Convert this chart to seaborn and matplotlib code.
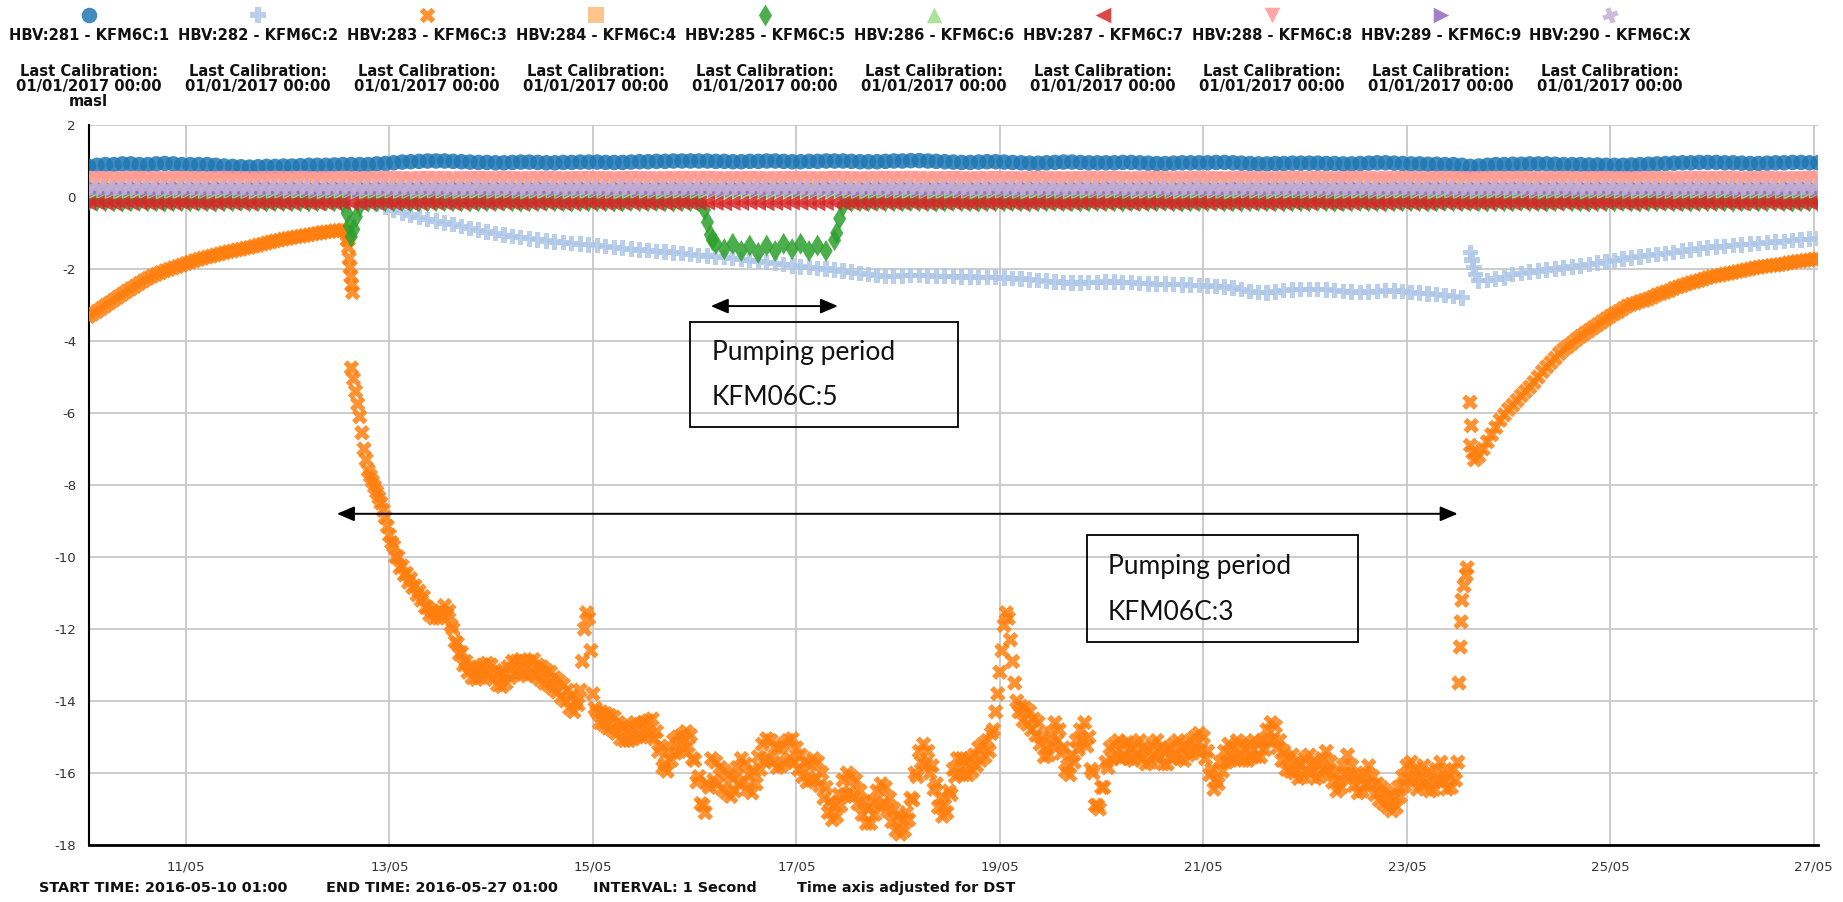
import matplotlib
matplotlib.use("Agg")
import numpy as np
import pandas as pd
import matplotlib.pyplot as plt
import matplotlib.dates as mdates
from matplotlib.markers import MarkerStyle
from matplotlib.transforms import Affine2D
from matplotlib.patches import Rectangle
import seaborn as sns

# ---------------------------------------------------------------- data
START = pd.Timestamp("2016-05-10 01:00")
END = pd.Timestamp("2016-05-27 01:00")

sensor_labels = [
    "HBV:281 - KFM6C:1", "HBV:282 - KFM6C:2", "HBV:283 - KFM6C:3",
    "HBV:284 - KFM6C:4", "HBV:285 - KFM6C:5", "HBV:286 - KFM6C:6",
    "HBV:287 - KFM6C:7", "HBV:288 - KFM6C:8", "HBV:289 - KFM6C:9",
    "HBV:290 - KFM6C:X",
]
sensor_colors = ["#1f77b4", "#aec7e8", "#ff7f0e", "#ffbb78", "#2ca02c",
                 "#98df8a", "#d62728", "#ff9896", "#9467bd", "#c5b0d5"]
calibration_lines = ["Last Calibration:", "01/01/2017 00:00"]
footer_items = ["START TIME: 2016-05-10 01:00", "END TIME: 2016-05-27 01:00",
                "INTERVAL: 1 Second", "Time axis adjusted for DST"]

# two-hourly readings, 10/05 01:00 .. 27/05 01:00 (masl)
kfm1_masl = [
    0.85, 0.88, 0.9, 0.9, 0.92, 0.92, 0.9, 0.9, 0.92, 0.93, 0.92, 0.9,
    0.9, 0.9, 0.9, 0.88, 0.86, 0.85, 0.84, 0.83, 0.84, 0.85, 0.85, 0.86,
    0.86, 0.87, 0.88, 0.88, 0.88, 0.89, 0.9, 0.9, 0.9, 0.9, 0.92, 0.93,
    0.95, 0.97, 0.98, 0.99, 1.0, 1.0, 1.0, 0.99, 0.98, 0.97, 0.96, 0.96,
    0.95, 0.95, 0.96, 0.97, 0.97, 0.96, 0.95, 0.95, 0.96, 0.96, 0.97, 0.97,
    0.97, 0.96, 0.96, 0.96, 0.97, 0.98, 0.98, 0.99, 0.99, 1.0, 1.0, 1.0,
    1.0, 1.0, 0.99, 0.99, 0.98, 0.98, 0.99, 0.99, 1.0, 1.0, 0.99, 0.98,
    0.98, 0.99, 0.99, 1.0, 1.0, 1.0, 0.99, 0.98, 0.98, 0.98, 0.99, 1.0,
    1.0, 1.01, 1.01, 1.0, 0.99, 0.98, 0.97, 0.96, 0.96, 0.97, 0.98, 0.98,
    0.97, 0.96, 0.95, 0.94, 0.94, 0.95, 0.96, 0.97, 0.97, 0.96, 0.95, 0.95,
    0.95, 0.95, 0.96, 0.96, 0.95, 0.94, 0.93, 0.93, 0.94, 0.95, 0.95, 0.95,
    0.95, 0.96, 0.96, 0.95, 0.94, 0.93, 0.92, 0.92, 0.93, 0.93, 0.94, 0.94,
    0.94, 0.94, 0.93, 0.93, 0.92, 0.92, 0.93, 0.94, 0.95, 0.95, 0.94, 0.93,
    0.92, 0.92, 0.91, 0.91, 0.9, 0.9, 0.88, 0.85, 0.86, 0.88, 0.9, 0.9,
    0.91, 0.91, 0.92, 0.92, 0.92, 0.91, 0.9, 0.9, 0.9, 0.89, 0.89, 0.88,
    0.88, 0.88, 0.89, 0.9, 0.91, 0.92, 0.93, 0.94, 0.95, 0.95, 0.96, 0.96,
    0.96, 0.95, 0.95, 0.94, 0.93, 0.93, 0.94, 0.95, 0.95, 0.96, 0.96, 0.95,
    0.95,
]
kfm2_masl = [
    0.15, 0.16, 0.15, 0.14, 0.15, 0.16, 0.15, 0.15, 0.14, 0.15, 0.16, 0.15,
    0.15, 0.14, 0.15, 0.15, 0.16, 0.15, 0.14, 0.15, 0.15, 0.16, 0.15, 0.15,
    0.14, 0.15, 0.15, 0.16, 0.15, 0.15, 0.14, 0.1, 0.0, -0.1, -0.2, -0.29,
    -0.37, -0.44, -0.5, -0.56, -0.62, -0.67, -0.72, -0.77, -0.82, -0.87, -0.92, -0.97,
    -1.02, -1.06, -1.1, -1.13, -1.16, -1.19, -1.22, -1.25, -1.27, -1.29, -1.31, -1.33,
    -1.35, -1.37, -1.4, -1.42, -1.45, -1.47, -1.49, -1.51, -1.53, -1.55, -1.57, -1.6,
    -1.62, -1.64, -1.66, -1.68, -1.7, -1.73, -1.76, -1.79, -1.82, -1.85, -1.88, -1.91,
    -1.94, -1.96, -1.98, -2.0, -2.03, -2.06, -2.09, -2.12, -2.15, -2.18, -2.2, -2.2,
    -2.19, -2.18, -2.18, -2.19, -2.2, -2.2, -2.21, -2.22, -2.22, -2.23, -2.24, -2.24,
    -2.25, -2.26, -2.28, -2.3, -2.32, -2.34, -2.36, -2.38, -2.39, -2.39, -2.38, -2.37,
    -2.36, -2.36, -2.37, -2.38, -2.4, -2.41, -2.42, -2.42, -2.43, -2.44, -2.45, -2.46,
    -2.47, -2.48, -2.5, -2.53, -2.57, -2.62, -2.65, -2.66, -2.64, -2.6, -2.58, -2.57,
    -2.57, -2.57, -2.58, -2.6, -2.62, -2.64, -2.65, -2.64, -2.62, -2.6, -2.61, -2.63,
    -2.65, -2.67, -2.69, -2.71, -2.73, -2.76, -2.8, -1.55, -2.33, -2.32, -2.28, -2.25,
    -2.15, -2.12, -2.09, -2.06, -2.03, -2.0, -1.97, -1.94, -1.91, -1.88, -1.84, -1.8,
    -1.76, -1.72, -1.69, -1.66, -1.63, -1.6, -1.57, -1.54, -1.5, -1.47, -1.44, -1.41,
    -1.39, -1.37, -1.35, -1.33, -1.31, -1.29, -1.27, -1.25, -1.23, -1.21, -1.19, -1.17,
    -1.15,
]
kfm4_masl = [
    0.42, 0.43, 0.42, 0.42, 0.41, 0.42, 0.43, 0.42, 0.42, 0.41, 0.42, 0.42,
    0.43, 0.42, 0.42, 0.41, 0.42, 0.42, 0.43, 0.42, 0.41, 0.42, 0.42, 0.43,
    0.42, 0.42, 0.41, 0.42, 0.43, 0.42, 0.42, 0.41, 0.42, 0.42, 0.43, 0.42,
    0.42, 0.43, 0.42, 0.42, 0.41, 0.42, 0.43, 0.42, 0.42, 0.41, 0.42, 0.42,
    0.43, 0.42, 0.42, 0.41, 0.42, 0.42, 0.43, 0.42, 0.41, 0.42, 0.42, 0.43,
    0.42, 0.42, 0.41, 0.42, 0.43, 0.42, 0.42, 0.41, 0.42, 0.42, 0.43, 0.42,
    0.42, 0.43, 0.42, 0.42, 0.41, 0.42, 0.43, 0.42, 0.42, 0.41, 0.42, 0.42,
    0.43, 0.42, 0.42, 0.41, 0.42, 0.42, 0.43, 0.42, 0.41, 0.42, 0.42, 0.43,
    0.42, 0.42, 0.41, 0.42, 0.43, 0.42, 0.42, 0.41, 0.42, 0.42, 0.43, 0.42,
    0.42, 0.43, 0.42, 0.42, 0.41, 0.42, 0.43, 0.42, 0.42, 0.41, 0.42, 0.42,
    0.43, 0.42, 0.42, 0.41, 0.42, 0.42, 0.43, 0.42, 0.41, 0.42, 0.42, 0.43,
    0.42, 0.42, 0.41, 0.42, 0.43, 0.42, 0.42, 0.41, 0.42, 0.42, 0.43, 0.42,
    0.42, 0.43, 0.42, 0.42, 0.41, 0.42, 0.43, 0.42, 0.42, 0.41, 0.42, 0.42,
    0.43, 0.42, 0.42, 0.41, 0.42, 0.42, 0.43, 0.42, 0.41, 0.42, 0.42, 0.43,
    0.42, 0.42, 0.41, 0.42, 0.43, 0.42, 0.42, 0.41, 0.42, 0.42, 0.43, 0.42,
    0.42, 0.43, 0.42, 0.42, 0.41, 0.42, 0.43, 0.42, 0.42, 0.41, 0.42, 0.42,
    0.43, 0.42, 0.42, 0.41, 0.42, 0.42, 0.43, 0.42, 0.41, 0.42, 0.42, 0.43,
    0.42,
]
kfm5_masl = [
    -0.12, -0.11, -0.12, -0.12, -0.13, -0.12, -0.11, -0.12, -0.12, -0.13, -0.12, -0.12,
    -0.12, -0.11, -0.12, -0.13, -0.12, -0.12, -0.11, -0.12, -0.12, -0.13, -0.12, -0.12,
    -0.12, -0.12, -0.13, -0.12, -0.11, -0.12, -0.15, -1.1, -0.25, -0.13, -0.12, -0.12,
    -0.12, -0.11, -0.12, -0.12, -0.13, -0.12, -0.11, -0.12, -0.12, -0.13, -0.12, -0.12,
    -0.12, -0.11, -0.12, -0.13, -0.12, -0.12, -0.11, -0.12, -0.12, -0.13, -0.12, -0.12,
    -0.12, -0.12, -0.13, -0.12, -0.11, -0.12, -0.12, -0.11, -0.12, -0.13, -0.12, -0.12,
    -0.12, -0.7, -1.3, -1.45, -1.3, -1.5, -1.35, -1.55, -1.35, -1.5, -1.3, -1.45,
    -1.3, -1.5, -1.35, -1.5, -1.2, -0.25, -0.13, -0.12, -0.12, -0.11, -0.12, -0.12,
    -0.12, -0.11, -0.12, -0.12, -0.13, -0.12, -0.11, -0.12, -0.12, -0.13, -0.12, -0.12,
    -0.12, -0.11, -0.12, -0.13, -0.12, -0.12, -0.11, -0.12, -0.12, -0.13, -0.12, -0.12,
    -0.12, -0.12, -0.13, -0.12, -0.11, -0.12, -0.12, -0.11, -0.12, -0.13, -0.12, -0.12,
    -0.12, -0.11, -0.12, -0.12, -0.13, -0.12, -0.11, -0.12, -0.12, -0.13, -0.12, -0.12,
    -0.12, -0.11, -0.12, -0.13, -0.12, -0.12, -0.11, -0.12, -0.12, -0.13, -0.12, -0.12,
    -0.12, -0.12, -0.13, -0.12, -0.11, -0.12, -0.12, -0.11, -0.12, -0.13, -0.12, -0.12,
    -0.12, -0.11, -0.12, -0.12, -0.13, -0.12, -0.11, -0.12, -0.12, -0.13, -0.12, -0.12,
    -0.12, -0.11, -0.12, -0.13, -0.12, -0.12, -0.11, -0.12, -0.12, -0.13, -0.12, -0.12,
    -0.12, -0.12, -0.13, -0.12, -0.11, -0.12, -0.12, -0.11, -0.12, -0.13, -0.12, -0.12,
    -0.12,
]
kfm6_masl = [
    0.18, 0.19, 0.18, 0.17, 0.18, 0.18, 0.19, 0.18, 0.17, 0.18, 0.18, 0.19,
    0.18, 0.18, 0.17, 0.18, 0.19, 0.18, 0.18, 0.17, 0.18, 0.18, 0.19, 0.18,
    0.18, 0.19, 0.18, 0.17, 0.18, 0.18, 0.19, 0.18, 0.17, 0.18, 0.18, 0.19,
    0.18, 0.18, 0.17, 0.18, 0.19, 0.18, 0.18, 0.17, 0.18, 0.18, 0.19, 0.18,
    0.18, 0.19, 0.18, 0.17, 0.18, 0.18, 0.19, 0.18, 0.17, 0.18, 0.18, 0.19,
    0.18, 0.18, 0.17, 0.18, 0.19, 0.18, 0.18, 0.17, 0.18, 0.18, 0.19, 0.18,
    0.18, 0.19, 0.18, 0.17, 0.18, 0.18, 0.19, 0.18, 0.17, 0.18, 0.18, 0.19,
    0.18, 0.18, 0.17, 0.18, 0.19, 0.18, 0.18, 0.17, 0.18, 0.18, 0.19, 0.18,
    0.18, 0.19, 0.18, 0.17, 0.18, 0.18, 0.19, 0.18, 0.17, 0.18, 0.18, 0.19,
    0.18, 0.18, 0.17, 0.18, 0.19, 0.18, 0.18, 0.17, 0.18, 0.18, 0.19, 0.18,
    0.18, 0.19, 0.18, 0.17, 0.18, 0.18, 0.19, 0.18, 0.17, 0.18, 0.18, 0.19,
    0.18, 0.18, 0.17, 0.18, 0.19, 0.18, 0.18, 0.17, 0.18, 0.18, 0.19, 0.18,
    0.18, 0.19, 0.18, 0.17, 0.18, 0.18, 0.19, 0.18, 0.17, 0.18, 0.18, 0.19,
    0.18, 0.18, 0.17, 0.18, 0.19, 0.18, 0.18, 0.17, 0.18, 0.18, 0.19, 0.18,
    0.18, 0.19, 0.18, 0.17, 0.18, 0.18, 0.19, 0.18, 0.17, 0.18, 0.18, 0.19,
    0.18, 0.18, 0.17, 0.18, 0.19, 0.18, 0.18, 0.17, 0.18, 0.18, 0.19, 0.18,
    0.18, 0.19, 0.18, 0.17, 0.18, 0.18, 0.19, 0.18, 0.17, 0.18, 0.18, 0.19,
    0.18,
]
kfm7_masl = [
    -0.17, -0.16, -0.17, -0.18, -0.17, -0.17, -0.16, -0.17, -0.18, -0.17, -0.17, -0.16,
    -0.17, -0.17, -0.18, -0.17, -0.16, -0.17, -0.17, -0.18, -0.17, -0.17, -0.16, -0.17,
    -0.17, -0.16, -0.17, -0.18, -0.17, -0.17, -0.16, -0.17, -0.18, -0.17, -0.17, -0.16,
    -0.17, -0.17, -0.18, -0.17, -0.16, -0.17, -0.17, -0.18, -0.17, -0.17, -0.16, -0.17,
    -0.17, -0.16, -0.17, -0.18, -0.17, -0.17, -0.16, -0.17, -0.18, -0.17, -0.17, -0.16,
    -0.17, -0.17, -0.18, -0.17, -0.16, -0.17, -0.17, -0.18, -0.17, -0.17, -0.16, -0.17,
    -0.17, -0.16, -0.17, -0.18, -0.17, -0.17, -0.16, -0.17, -0.18, -0.17, -0.17, -0.16,
    -0.17, -0.17, -0.18, -0.17, -0.16, -0.17, -0.17, -0.18, -0.17, -0.17, -0.16, -0.17,
    -0.17, -0.16, -0.17, -0.18, -0.17, -0.17, -0.16, -0.17, -0.18, -0.17, -0.17, -0.16,
    -0.17, -0.17, -0.18, -0.17, -0.16, -0.17, -0.17, -0.18, -0.17, -0.17, -0.16, -0.17,
    -0.17, -0.16, -0.17, -0.18, -0.17, -0.17, -0.16, -0.17, -0.18, -0.17, -0.17, -0.16,
    -0.17, -0.17, -0.18, -0.17, -0.16, -0.17, -0.17, -0.18, -0.17, -0.17, -0.16, -0.17,
    -0.17, -0.16, -0.17, -0.18, -0.17, -0.17, -0.16, -0.17, -0.18, -0.17, -0.17, -0.16,
    -0.17, -0.17, -0.18, -0.17, -0.16, -0.17, -0.17, -0.18, -0.17, -0.17, -0.16, -0.17,
    -0.17, -0.16, -0.17, -0.18, -0.17, -0.17, -0.16, -0.17, -0.18, -0.17, -0.17, -0.16,
    -0.17, -0.17, -0.18, -0.17, -0.16, -0.17, -0.17, -0.18, -0.17, -0.17, -0.16, -0.17,
    -0.17, -0.16, -0.17, -0.18, -0.17, -0.17, -0.16, -0.17, -0.18, -0.17, -0.17, -0.16,
    -0.17,
]
kfm8_masl = [
    0.5, 0.51, 0.5, 0.49, 0.5, 0.5, 0.51, 0.5, 0.49, 0.5, 0.5, 0.51,
    0.5, 0.5, 0.49, 0.5, 0.51, 0.5, 0.5, 0.49, 0.5, 0.5, 0.51, 0.5,
    0.5, 0.51, 0.5, 0.49, 0.5, 0.5, 0.51, 0.5, 0.49, 0.5, 0.5, 0.51,
    0.5, 0.5, 0.49, 0.5, 0.51, 0.5, 0.5, 0.49, 0.5, 0.5, 0.51, 0.5,
    0.5, 0.51, 0.5, 0.49, 0.5, 0.5, 0.51, 0.5, 0.49, 0.5, 0.5, 0.51,
    0.5, 0.5, 0.49, 0.5, 0.51, 0.5, 0.5, 0.49, 0.5, 0.5, 0.51, 0.5,
    0.5, 0.51, 0.5, 0.49, 0.5, 0.5, 0.51, 0.5, 0.49, 0.5, 0.5, 0.51,
    0.5, 0.5, 0.49, 0.5, 0.51, 0.5, 0.5, 0.49, 0.5, 0.5, 0.51, 0.5,
    0.5, 0.51, 0.5, 0.49, 0.5, 0.5, 0.51, 0.5, 0.49, 0.5, 0.5, 0.51,
    0.5, 0.5, 0.49, 0.5, 0.51, 0.5, 0.5, 0.49, 0.5, 0.5, 0.51, 0.5,
    0.5, 0.51, 0.5, 0.49, 0.5, 0.5, 0.51, 0.5, 0.49, 0.5, 0.5, 0.51,
    0.5, 0.5, 0.49, 0.5, 0.51, 0.5, 0.5, 0.49, 0.5, 0.5, 0.51, 0.5,
    0.5, 0.51, 0.5, 0.49, 0.5, 0.5, 0.51, 0.5, 0.49, 0.5, 0.5, 0.51,
    0.5, 0.5, 0.49, 0.5, 0.51, 0.5, 0.5, 0.49, 0.5, 0.5, 0.51, 0.5,
    0.5, 0.51, 0.5, 0.49, 0.5, 0.5, 0.51, 0.5, 0.49, 0.5, 0.5, 0.51,
    0.5, 0.5, 0.49, 0.5, 0.51, 0.5, 0.5, 0.49, 0.5, 0.5, 0.51, 0.5,
    0.5, 0.51, 0.5, 0.49, 0.5, 0.5, 0.51, 0.5, 0.49, 0.5, 0.5, 0.51,
    0.5,
]
kfm9_masl = [
    0.2, 0.21, 0.2, 0.19, 0.2, 0.2, 0.21, 0.2, 0.19, 0.2, 0.2, 0.21,
    0.2, 0.2, 0.19, 0.2, 0.21, 0.2, 0.2, 0.19, 0.2, 0.2, 0.21, 0.2,
    0.2, 0.21, 0.2, 0.19, 0.2, 0.2, 0.21, 0.2, 0.19, 0.2, 0.2, 0.21,
    0.2, 0.2, 0.19, 0.2, 0.21, 0.2, 0.2, 0.19, 0.2, 0.2, 0.21, 0.2,
    0.2, 0.21, 0.2, 0.19, 0.2, 0.2, 0.21, 0.2, 0.19, 0.2, 0.2, 0.21,
    0.2, 0.2, 0.19, 0.2, 0.21, 0.2, 0.2, 0.19, 0.2, 0.2, 0.21, 0.2,
    0.2, 0.21, 0.2, 0.19, 0.2, 0.2, 0.21, 0.2, 0.19, 0.2, 0.2, 0.21,
    0.2, 0.2, 0.19, 0.2, 0.21, 0.2, 0.2, 0.19, 0.2, 0.2, 0.21, 0.2,
    0.2, 0.21, 0.2, 0.19, 0.2, 0.2, 0.21, 0.2, 0.19, 0.2, 0.2, 0.21,
    0.2, 0.2, 0.19, 0.2, 0.21, 0.2, 0.2, 0.19, 0.2, 0.2, 0.21, 0.2,
    0.2, 0.21, 0.2, 0.19, 0.2, 0.2, 0.21, 0.2, 0.19, 0.2, 0.2, 0.21,
    0.2, 0.2, 0.19, 0.2, 0.21, 0.2, 0.2, 0.19, 0.2, 0.2, 0.21, 0.2,
    0.2, 0.21, 0.2, 0.19, 0.2, 0.2, 0.21, 0.2, 0.19, 0.2, 0.2, 0.21,
    0.2, 0.2, 0.19, 0.2, 0.21, 0.2, 0.2, 0.19, 0.2, 0.2, 0.21, 0.2,
    0.2, 0.21, 0.2, 0.19, 0.2, 0.2, 0.21, 0.2, 0.19, 0.2, 0.2, 0.21,
    0.2, 0.2, 0.19, 0.2, 0.21, 0.2, 0.2, 0.19, 0.2, 0.2, 0.21, 0.2,
    0.2, 0.21, 0.2, 0.19, 0.2, 0.2, 0.21, 0.2, 0.19, 0.2, 0.2, 0.21,
    0.2,
]
kfm10_masl = [
    0.26, 0.27, 0.26, 0.25, 0.26, 0.26, 0.27, 0.26, 0.25, 0.26, 0.26, 0.27,
    0.26, 0.26, 0.25, 0.26, 0.27, 0.26, 0.26, 0.25, 0.26, 0.26, 0.27, 0.26,
    0.26, 0.27, 0.26, 0.25, 0.26, 0.26, 0.27, 0.26, 0.25, 0.26, 0.26, 0.27,
    0.26, 0.26, 0.25, 0.26, 0.27, 0.26, 0.26, 0.25, 0.26, 0.26, 0.27, 0.26,
    0.26, 0.27, 0.26, 0.25, 0.26, 0.26, 0.27, 0.26, 0.25, 0.26, 0.26, 0.27,
    0.26, 0.26, 0.25, 0.26, 0.27, 0.26, 0.26, 0.25, 0.26, 0.26, 0.27, 0.26,
    0.26, 0.27, 0.26, 0.25, 0.26, 0.26, 0.27, 0.26, 0.25, 0.26, 0.26, 0.27,
    0.26, 0.26, 0.25, 0.26, 0.27, 0.26, 0.26, 0.25, 0.26, 0.26, 0.27, 0.26,
    0.26, 0.27, 0.26, 0.25, 0.26, 0.26, 0.27, 0.26, 0.25, 0.26, 0.26, 0.27,
    0.26, 0.26, 0.25, 0.26, 0.27, 0.26, 0.26, 0.25, 0.26, 0.26, 0.27, 0.26,
    0.26, 0.27, 0.26, 0.25, 0.26, 0.26, 0.27, 0.26, 0.25, 0.26, 0.26, 0.27,
    0.26, 0.26, 0.25, 0.26, 0.27, 0.26, 0.26, 0.25, 0.26, 0.26, 0.27, 0.26,
    0.26, 0.27, 0.26, 0.25, 0.26, 0.26, 0.27, 0.26, 0.25, 0.26, 0.26, 0.27,
    0.26, 0.26, 0.25, 0.26, 0.27, 0.26, 0.26, 0.25, 0.26, 0.26, 0.27, 0.26,
    0.26, 0.27, 0.26, 0.25, 0.26, 0.26, 0.27, 0.26, 0.25, 0.26, 0.26, 0.27,
    0.26, 0.26, 0.25, 0.26, 0.27, 0.26, 0.26, 0.25, 0.26, 0.26, 0.27, 0.26,
    0.26, 0.27, 0.26, 0.25, 0.26, 0.26, 0.27, 0.26, 0.25, 0.26, 0.26, 0.27,
    0.26,
]

# hourly readings of the pumped section KFM6C:3, on the hour, 10/05 01:00 .. 27/05 01:00
kfm3_masl = [
    -3.32, -3.25, -3.18, -3.1, -3.02, -2.94, -2.86, -2.78, -2.7, -2.62, -2.55, -2.48,
    -2.4, -2.33, -2.26, -2.2, -2.15, -2.1, -2.05, -2.01, -1.97, -1.93, -1.89, -1.85,
    -1.81, -1.77, -1.73, -1.7, -1.67, -1.64, -1.61, -1.58, -1.55, -1.52, -1.5, -1.47,
    -1.45, -1.42, -1.4, -1.37, -1.34, -1.31, -1.28, -1.25, -1.22, -1.2, -1.17, -1.15,
    -1.13, -1.11, -1.09, -1.07, -1.05, -1.03, -1.01, -0.99, -0.97, -0.96, -0.94, -0.93,
    -0.92, -1.05, -4.75, -5.4, -6.1, -7.0, -7.6, -7.9, -8.2, -8.5, -8.9, -9.4,
    -9.7, -10.0, -10.25, -10.45, -10.6, -10.8, -10.95, -11.1, -11.4, -11.5, -11.55, -11.5,
    -11.35, -11.5, -12.0, -12.4, -12.65, -12.9, -13.05, -13.1, -13.1, -13.0, -12.95, -13.0,
    -13.15, -13.2, -13.25, -13.05, -12.9, -12.9, -12.85, -12.9, -12.9, -12.85, -13.0, -13.05,
    -13.15, -13.2, -13.35, -13.45, -13.55, -13.7, -13.85, -14.0, -13.7, -12.0, -11.7, -13.8,
    -14.3, -14.3, -14.35, -14.4, -14.45, -14.6, -14.7, -14.75, -14.7, -14.6, -14.65, -14.6,
    -14.55, -14.5, -14.85, -15.25, -15.75, -15.4, -15.1, -15.0, -14.95, -14.85, -14.95, -15.65,
    -16.1, -16.9, -16.3, -15.6, -15.7, -15.85, -15.95, -16.05, -16.15, -15.85, -15.6, -15.75,
    -16.05, -15.95, -15.55, -15.2, -15.05, -15.1, -15.3, -15.3, -15.2, -15.1, -15.05, -15.3,
    -15.5, -15.7, -15.8, -15.6, -15.7, -16.0, -16.4, -16.8, -16.9, -16.6, -16.2, -16.0,
    -16.1, -16.2, -16.5, -16.8, -17.0, -16.8, -16.5, -16.3, -16.4, -16.7, -17.0, -17.2,
    -17.3, -17.1, -16.7, -16.0, -15.4, -15.2, -15.4, -15.8, -16.3, -16.7, -16.9, -16.5,
    -15.9, -15.6, -15.6, -15.7, -15.6, -15.5, -15.3, -15.2, -15.1, -14.9, -14.3, -13.2,
    -11.9, -11.7, -12.9, -14.0, -14.15, -14.2, -14.3, -14.5, -14.6, -15.0, -15.3, -14.9,
    -14.6, -14.8, -15.3, -15.8, -15.5, -15.1, -14.8, -14.6, -15.0, -16.0, -16.9, -16.4,
    -15.7, -15.3, -15.2, -15.1, -15.2, -15.15, -15.3, -15.2, -15.1, -15.3, -15.4, -15.2,
    -15.1, -15.3, -15.4, -15.3, -15.2, -15.1, -15.3, -15.2, -15.1, -15.0, -14.9, -15.0,
    -15.4, -15.9, -16.2, -15.7, -15.4, -15.2, -15.3, -15.1, -15.2, -15.3, -15.2, -15.1,
    -15.2, -15.1, -14.8, -14.6, -14.7, -15.1, -15.4, -15.6, -15.5, -15.7, -15.8, -15.6,
    -15.5, -15.7, -15.8, -15.6, -15.4, -15.7, -16.0, -16.2, -15.8, -15.5, -15.8, -16.1,
    -16.2, -16.0, -15.8, -16.1, -16.3, -16.4, -16.5, -16.6, -16.7, -16.4, -16.1, -15.8,
    -15.7, -15.9, -16.1, -15.8, -16.0, -16.2, -15.9, -15.7, -16.0, -16.1, -15.9, -15.7,
    -11.2, -10.5, -6.9, -7.3, -7.2, -7.0, -6.8, -6.6, -6.4, -6.2, -6.05, -5.9,
    -5.78, -5.65, -5.52, -5.4, -5.28, -5.15, -5.0, -4.85, -4.72, -4.6, -4.48, -4.35,
    -4.24, -4.15, -4.06, -3.96, -3.87, -3.79, -3.71, -3.63, -3.55, -3.47, -3.39, -3.31,
    -3.24, -3.18, -3.1, -3.03, -2.98, -2.95, -2.9, -2.87, -2.83, -2.78, -2.72, -2.68,
    -2.64, -2.6, -2.54, -2.5, -2.46, -2.42, -2.38, -2.35, -2.32, -2.28, -2.24, -2.21,
    -2.19, -2.17, -2.14, -2.12, -2.1, -2.07, -2.05, -2.02, -2.0, -1.97, -1.95, -1.93,
    -1.92, -1.9, -1.89, -1.88, -1.86, -1.83, -1.81, -1.79, -1.78, -1.76, -1.75, -1.73,
    -1.72,
]
# KFM6C:3 readings on the half hour while pumping, 12/05 15:30 .. 23/05 11:30
kfm3_half_hour_masl = [
    -5.05, -5.75, -6.55, -7.3, -7.75, -8.05, -8.35, -8.7, -9.15, -9.6,
    -10.0, -10.3, -10.5, -10.7, -10.85, -11.05, -11.2, -11.4, -11.6, -11.7, -11.7, -11.6,
    -11.6, -11.9, -12.35, -12.7, -13.0, -13.2, -13.35, -13.4, -13.35, -13.25, -13.25, -13.4,
    -13.55, -13.6, -13.5, -13.35, -13.25, -13.2, -13.25, -13.3, -13.2, -13.3, -13.4, -13.5,
    -13.55, -13.65, -13.75, -13.9, -14.0, -14.2, -14.3, -14.1, -12.9, -11.55, -12.6, -14.2,
    -14.6, -14.65, -14.75, -14.8, -14.9, -15.05, -15.1, -15.1, -15.05, -15.0, -15.0, -14.95,
    -14.9, -15.05, -15.4, -15.85, -15.95, -15.65, -15.45, -15.4, -15.3, -15.25, -15.6, -16.25,
    -16.85, -17.1, -16.4, -16.2, -16.3, -16.45, -16.55, -16.65, -16.5, -16.3, -16.2, -16.45,
    -16.55, -16.3, -15.9, -15.65, -15.6, -15.7, -15.85, -15.8, -15.7, -15.6, -15.7, -15.9,
    -16.1, -16.25, -16.2, -16.15, -16.35, -16.7, -17.1, -17.3, -17.2, -16.9, -16.6, -16.55,
    -16.65, -16.85, -17.15, -17.4, -17.4, -17.15, -16.9, -16.85, -17.05, -17.35, -17.6, -17.7,
    -17.6, -17.3, -16.75, -16.1, -15.7, -15.75, -16.0, -16.45, -16.95, -17.2, -17.1, -16.6,
    -16.1, -16.0, -16.05, -16.05, -15.95, -15.8, -15.65, -15.55, -15.4, -14.8, -13.8, -12.6,
    -11.55, -12.3, -13.5, -14.3, -14.55, -14.65, -14.8, -14.95, -15.2, -15.55, -15.5, -15.2,
    -15.1, -15.45, -15.95, -16.05, -15.7, -15.35, -15.1, -15.25, -15.9, -16.9, -17.0, -16.4,
    -15.85, -15.6, -15.5, -15.6, -15.55, -15.6, -15.65, -15.5, -15.6, -15.75, -15.7, -15.5,
    -15.6, -15.75, -15.75, -15.6, -15.5, -15.6, -15.65, -15.5, -15.45, -15.35, -15.35, -15.6,
    -16.05, -16.45, -16.3, -15.95, -15.7, -15.65, -15.6, -15.55, -15.65, -15.65, -15.55, -15.55,
    -15.55, -15.35, -15.1, -15.05, -15.3, -15.65, -15.9, -15.95, -16.0, -16.15, -16.1, -15.95,
    -16.0, -16.15, -16.1, -15.9, -15.95, -16.25, -16.5, -16.4, -16.05, -16.05, -16.35, -16.55,
    -16.5, -16.3, -16.35, -16.6, -16.75, -16.85, -16.95, -17.05, -16.95, -16.65, -16.35, -16.15,
    -16.2, -16.45, -16.35, -16.3, -16.5, -16.45, -16.2, -16.25, -16.45, -16.4, -16.2,
]
HALF_HOUR_FIRST = 62.5  # hours after start time of the first half-hour reading

# extra readings logged while the level changed fastest (hours after start time)
kfm3_fast_hours = [61.0, 61.3, 61.5, 61.7, 61.9, 62.1, 62.3,
                   323.3, 323.6, 323.8, 324.5, 325.2, 325.9, 326.2, 326.6]
kfm3_fast_masl = [-1.2, -1.4, -1.7, -1.95, -2.2, -2.45, -2.65,
                  -13.5, -12.5, -11.8, -10.8, -10.3, -5.7, -6.35, -7.1]
kfm2_fast_hours = [326.4, 326.8, 327.2]
kfm2_fast_masl = [-1.75, -1.95, -2.15]
kfm5_fast_hours = [61.0, 61.5, 62.6, 63.2, 145.3, 146.7, 147.2, 176.5, 177.2]
kfm5_fast_masl = [-0.45, -0.8, -0.9, -0.55, -0.35, -1.05, -1.2, -1.0, -0.6]

# ---------------------------------------------------------------- frame
two_hourly = pd.date_range(START, END, freq="2h")
hourly = pd.date_range(START, END, freq="1h")
half_hourly = pd.date_range(START + pd.Timedelta(hours=HALF_HOUR_FIRST),
                            periods=len(kfm3_half_hour_masl), freq="1h")


def readings(label, times, values):
    return pd.DataFrame({"time": times, "masl": values, "sensor": label})


def at_hours(hours):
    return START + pd.to_timedelta(hours, unit="h")


frames = [
    readings(sensor_labels[0], two_hourly, kfm1_masl),
    readings(sensor_labels[1], two_hourly, kfm2_masl),
    readings(sensor_labels[1], at_hours(kfm2_fast_hours), kfm2_fast_masl),
    readings(sensor_labels[2], hourly, kfm3_masl),
    readings(sensor_labels[2], half_hourly, kfm3_half_hour_masl),
    readings(sensor_labels[2], at_hours(kfm3_fast_hours), kfm3_fast_masl),
    readings(sensor_labels[3], two_hourly, kfm4_masl),
    readings(sensor_labels[4], two_hourly, kfm5_masl),
    readings(sensor_labels[4], at_hours(kfm5_fast_hours), kfm5_fast_masl),
    readings(sensor_labels[5], two_hourly, kfm6_masl),
    readings(sensor_labels[6], two_hourly, kfm7_masl),
    readings(sensor_labels[7], two_hourly, kfm8_masl),
    readings(sensor_labels[8], two_hourly, kfm9_masl),
    readings(sensor_labels[9], two_hourly, kfm10_masl),
]
levels = pd.concat(frames, ignore_index=True)

tilted_plus = MarkerStyle("P", transform=Affine2D().rotate_deg(20))
marker_shapes = ["o", "P", "X", "s", "d", "^", "<", "v", ">", tilted_plus]
palette = dict(zip(sensor_labels, sensor_colors))
markers = dict(zip(sensor_labels, marker_shapes))

# ---------------------------------------------------------------- figure
sns.set_theme(style="white")
plt.rcParams["font.family"] = ["DejaVu Sans"]
plt.rcParams["axes.unicode_minus"] = False

W, H = 1843, 902
fig = plt.figure(figsize=(W / 100, H / 100), dpi=100)
fig.patch.set_facecolor("white")
ax = fig.add_axes([88.5 / W, 1 - 845 / H, (1818 - 88.5) / W, (845 - 125) / H])

MARKER_AREA = 125
sns.scatterplot(data=levels, x="time", y="masl", hue="sensor", style="sensor",
                palette=palette, markers=markers, s=MARKER_AREA, alpha=0.85,
                linewidth=0, edgecolor="none", legend=False, ax=ax, zorder=3)

ax.set_xlim(START, END)
ax.set_ylim(-18, 2)
ax.set_yticks(np.arange(-18, 3, 2))
ax.xaxis.set_major_locator(mdates.DayLocator(bymonthday=range(11, 28, 2)))
ax.xaxis.set_major_formatter(mdates.DateFormatter("%d/%m"))
ax.set_xlabel("")
ax.set_ylabel("")

ax.grid(True, color="#c8c8c8", linewidth=1.3)
ax.set_axisbelow(True)
for side in ("top", "right"):
    ax.spines[side].set_visible(False)
ax.spines["left"].set_color("black")
ax.spines["left"].set_linewidth(1.5)
ax.spines["bottom"].set_color("black")
ax.spines["bottom"].set_linewidth(2.0)
ax.tick_params(axis="both", direction="out", length=6, width=1.4, color="black",
               labelsize=9.6, labelcolor="#333333")
ax.tick_params(axis="y", pad=3)
ax.tick_params(axis="x", pad=5)


# ---------------------------------------------------------------- pumping annotations
def hnum(hours):
    return mdates.date2num(START + pd.Timedelta(hours=hours))


arrow_style = dict(arrowstyle="<|-|>,head_length=0.75,head_width=0.32",
                   color="black", lw=1.4, shrinkA=0, shrinkB=0, mutation_scale=14)
note_font = dict(family="Lato", fontsize=19, color="#111111", va="baseline", ha="left")

# KFM06C:5 pumping, 16/05 - 17/05
ax.annotate("", xy=(hnum(176.8), -3.03), xytext=(hnum(146.8), -3.03),
            arrowprops=arrow_style, zorder=5)
ax.add_patch(Rectangle((hnum(141.9), -6.38), hnum(205.1) - hnum(141.9), 2.92,
                       fill=False, edgecolor="black", linewidth=1.3, zorder=5))
ax.text(hnum(147.1), -4.52, "Pumping period", zorder=6, **note_font)
ax.text(hnum(147.1), -5.77, "KFM06C:5", zorder=6, **note_font)

# KFM06C:3 pumping, 12/05 - 23/05
ax.annotate("", xy=(hnum(323.0), -8.8), xytext=(hnum(58.6), -8.8),
            arrowprops=arrow_style, zorder=5)
ax.add_patch(Rectangle((hnum(235.5), -12.35), hnum(299.4) - hnum(235.5), 2.95,
                       fill=False, edgecolor="black", linewidth=1.3, zorder=5))
ax.text(hnum(240.5), -10.48, "Pumping period", zorder=6, **note_font)
ax.text(hnum(240.5), -11.76, "KFM06C:3", zorder=6, **note_font)

# ---------------------------------------------------------------- sensor header
lax = fig.add_axes([0, 0, 1, 1], zorder=4)
lax.set_xlim(0, W)
lax.set_ylim(H, 0)
lax.axis("off")
head_font = dict(ha="center", va="center", fontsize=10.6, fontweight="bold", color="#111111")
for k, (label, color, shape) in enumerate(zip(sensor_labels, sensor_colors, marker_shapes)):
    cx = 89 + 169 * k
    lax.scatter([cx], [15], marker=shape, s=MARKER_AREA, color=color, alpha=0.85, linewidths=0)
    lax.text(cx, 36, label, **head_font)
    lax.text(cx, 71, calibration_lines[0], **head_font)
    lax.text(cx, 86, calibration_lines[1], **head_font)
lax.text(88, 101, "masl", **head_font)

# ---------------------------------------------------------------- footer
for text, x in zip(footer_items, [39, 326, 593, 797]):
    lax.text(x, 888, text, ha="left", va="center", fontsize=10.4,
             fontweight="bold", color="#111111")

fig.savefig("out.png", dpi=100, facecolor="white")
